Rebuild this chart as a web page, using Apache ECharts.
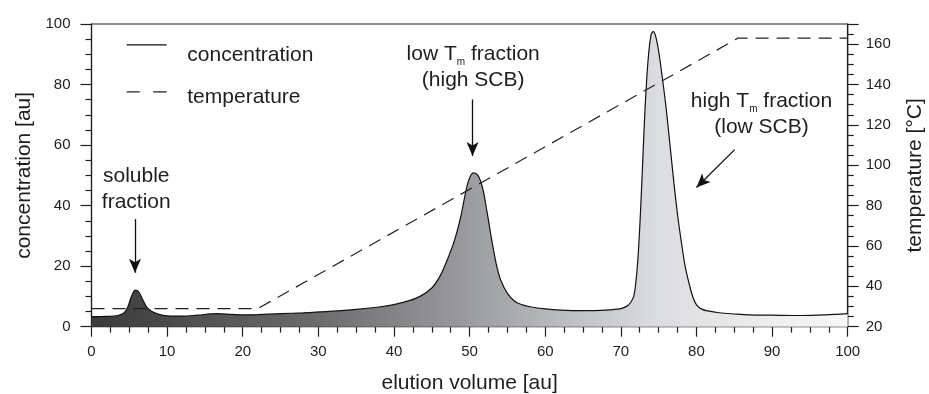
<!DOCTYPE html>
<html><head><meta charset="utf-8">
<script src="https://cdn.jsdelivr.net/npm/echarts@6/dist/echarts.min.js"></script>
<style>html,body{margin:0;padding:0;background:#fff}#c{width:929px;height:394px}</style>
</head><body><div id="c"></div>
<script>
// ---- data ----
const elutionVolume = [0, 2, 3.5, 4.3, 4.8, 5.2, 5.6, 5.9, 6.3, 6.8, 7.3, 8, 9, 10, 12, 14, 16.5, 18.5, 20, 22, 25, 28, 31, 35, 38, 40, 42, 43.5, 45, 46, 47, 48, 48.8, 49.4, 49.9, 50.5, 51.1, 51.7, 52.3, 52.9, 53.5, 54.1, 55, 56, 57, 58, 60, 62, 65, 68, 70, 70.8, 71.3, 71.7, 72, 72.3, 72.6, 72.9, 73.2, 73.6, 74.0, 74.3, 74.6, 75.0, 75.5, 76.0, 76.5, 77.0, 77.5, 78.0, 78.5, 79.0, 79.5, 80.0, 80.7, 81.5, 83, 85, 87, 90, 94, 97, 100];
const concentration = [3.3, 3.4, 3.7, 4.5, 6.5, 9.5, 11.7, 12.1, 11.3, 8.8, 6.5, 5.0, 4.0, 3.6, 3.5, 3.8, 4.3, 4.1, 3.9, 4.0, 4.3, 4.6, 5.0, 5.7, 6.5, 7.3, 8.6, 10.1, 12.8, 16.3, 21.8, 28.5, 36, 43.5, 48.5, 50.8, 50, 46, 38, 29, 21, 15.5, 11, 8.3, 7.2, 6.6, 5.9, 5.5, 5.3, 5.5, 6.0, 6.8, 8.0, 10, 15, 24, 38, 55, 72, 88, 96.5, 97.5, 96, 91, 82, 72, 60, 48, 37, 28, 20, 14.5, 10, 7.2, 5.8, 5.2, 4.6, 4.2, 3.9, 3.8, 3.7, 3.9, 4.3];
const tempVolume = [0, 22, 85.5, 100];
const temperature = [29, 29, 163, 163];
const seriesNames = ['concentration', 'temperature'];
const axisTitles = ['elution volume [au]', 'concentration [au]', 'temperature [°C]'];
const xRange = [0, 100, 10];
const concRange = [0, 100, 20];
const tempRange = [20, 170, 20];

const FONT = '"Liberation Sans", Arial, Helvetica, sans-serif';
const INK = '#1e1e1e';

const concData = elutionVolume.map((x, i) => [x, concentration[i]]);
const tempData = tempVolume.map((x, i) => [x, temperature[i]]);

const axisCommon = {
  axisLine: { show: true, lineStyle: { color: INK, width: 1.2 } },
  axisTick: { show: true, inside: false, length: 11, lineStyle: { color: INK, width: 1.2 } },
  minorTick: { show: true, splitNumber: 4, length: 6, lineStyle: { color: INK, width: 1.2 } },
  splitLine: { show: false },
  minorSplitLine: { show: false },
  axisLabel: { color: INK, fontSize: 15, fontFamily: FONT },
  nameTextStyle: { color: INK, fontSize: 21, fontFamily: FONT },
  nameLocation: 'middle'
};

const rich = {
  a: { fontSize: 21, lineHeight: 26, color: INK, fontFamily: FONT },
  s: { fontSize: 10, lineHeight: 7, verticalAlign: 'bottom', color: INK, fontFamily: FONT }
};

const option = {
  animation: false,
  backgroundColor: '#fff',
  grid: { left: 91.5, right: 81.3, top: 24, bottom: 67.3, show: true, borderColor: INK, borderWidth: 1.2, backgroundColor: 'transparent', containLabel: false, outerBoundsMode: 'none' },
  legend: [
    { data: [{ name: seriesNames[0], icon: 'path://M0,0H40V1.3H0Z M55.6,21H55.61V21.01H55.6Z' }], left: 126.7, top: 44.3, padding: 0, itemWidth: 55.6, itemHeight: 21, selectedMode: false,
      textStyle: { fontSize: 21, color: INK, fontFamily: FONT } },
    { data: [{ name: seriesNames[1], icon: 'path://M0,0H13V1.3H0Z M26.5,0H40V1.3H26.5Z M55.6,11.4H55.61V11.41H55.6Z' }], left: 126.7, top: 86.4, padding: 0, itemWidth: 55.6, itemHeight: 11.4, selectedMode: false,
      textStyle: { fontSize: 21, color: INK, fontFamily: FONT } }
  ],
  xAxis: Object.assign({}, axisCommon, {
    type: 'value', min: xRange[0], max: xRange[1], interval: xRange[2],
    name: axisTitles[0], nameGap: 46,
    axisTick: { show: true, inside: false, length: 10, lineStyle: { color: INK, width: 1.2 } },
    axisLabel: Object.assign({}, axisCommon.axisLabel, { margin: 18 })
  }),
  yAxis: [
    Object.assign({}, axisCommon, {
      type: 'value', position: 'left', min: concRange[0], max: concRange[1], interval: concRange[2],
      name: axisTitles[1], nameGap: 54, nameRotate: 90,
      axisLabel: Object.assign({}, axisCommon.axisLabel, { margin: 21 })
    }),
    Object.assign({}, axisCommon, {
      type: 'value', position: 'right', min: tempRange[0], max: tempRange[1], interval: tempRange[2],
      name: axisTitles[2], nameGap: 57, nameRotate: 90,
      axisLabel: Object.assign({}, axisCommon.axisLabel, { margin: 18, showMaxLabel: false })
    })
  ],
  series: [
    {
      name: seriesNames[0], type: 'line', yAxisIndex: 0, data: concData,
      smooth: 0.35, symbol: 'none', showSymbol: false,
      itemStyle: { color: '#111' },
      lineStyle: { color: '#111', width: 1.2 },
      areaStyle: {
        opacity: 1,
        color: new echarts.graphic.LinearGradient(0, 0, 1, 0, [
          { offset: 0, color: '#3a3a3a' },
          { offset: 0.3, color: '#6c6c6e' },
          { offset: 0.5, color: '#9b9c9f' },
          { offset: 0.75, color: '#dcdde0' },
          { offset: 1, color: '#f8f8f8' }
        ])
      },
      emphasis: { disabled: true }, silent: true, z: 2,
      markPoint: {
        silent: true, symbol: 'circle', symbolSize: 0, animation: false,
        label: { show: true, position: 'inside', color: INK, rich: rich },
        data: [
          { coord: [5.92, 45.4], label: { formatter: '{a|soluble}\n{a|fraction}' } },
          { coord: [50.47, 85.8], label: { formatter: '{a|low T}{s|m}{a| fraction}\n{a|(high SCB)}' } },
          { coord: [88.6, 70.3], label: { formatter: '{a|high T}{s|m}{a| fraction}\n{a|(low SCB)}' } }
        ]
      },
      markLine: {
        silent: true, animation: false,
        symbol: ['none', 'arrow'], symbolSize: [9, 14],
        label: { show: false },
        lineStyle: { color: '#111', width: 1.3, type: 'solid' },
        emphasis: { disabled: true },
        data: [
          [{ coord: [5.75, 35.56] }, { coord: [5.75, 17.8] }],
          [{ coord: [50.39, 75.07] }, { coord: [50.39, 56.4] }],
          [{ coord: [85.06, 58.5] }, { coord: [80.0, 46.0] }]
        ]
      }
    },
    {
      name: seriesNames[1], type: 'line', yAxisIndex: 1, data: tempData,
      symbol: 'none', showSymbol: false,
      itemStyle: { color: '#222' },
      lineStyle: { color: '#222', width: 1.2, type: [13, 8] },
      emphasis: { disabled: true }, silent: true, z: 3
    }
  ]
};

const chart = echarts.init(document.getElementById('c'), null, { renderer: 'canvas' });
chart.setOption(option);
</script>
</body></html>
